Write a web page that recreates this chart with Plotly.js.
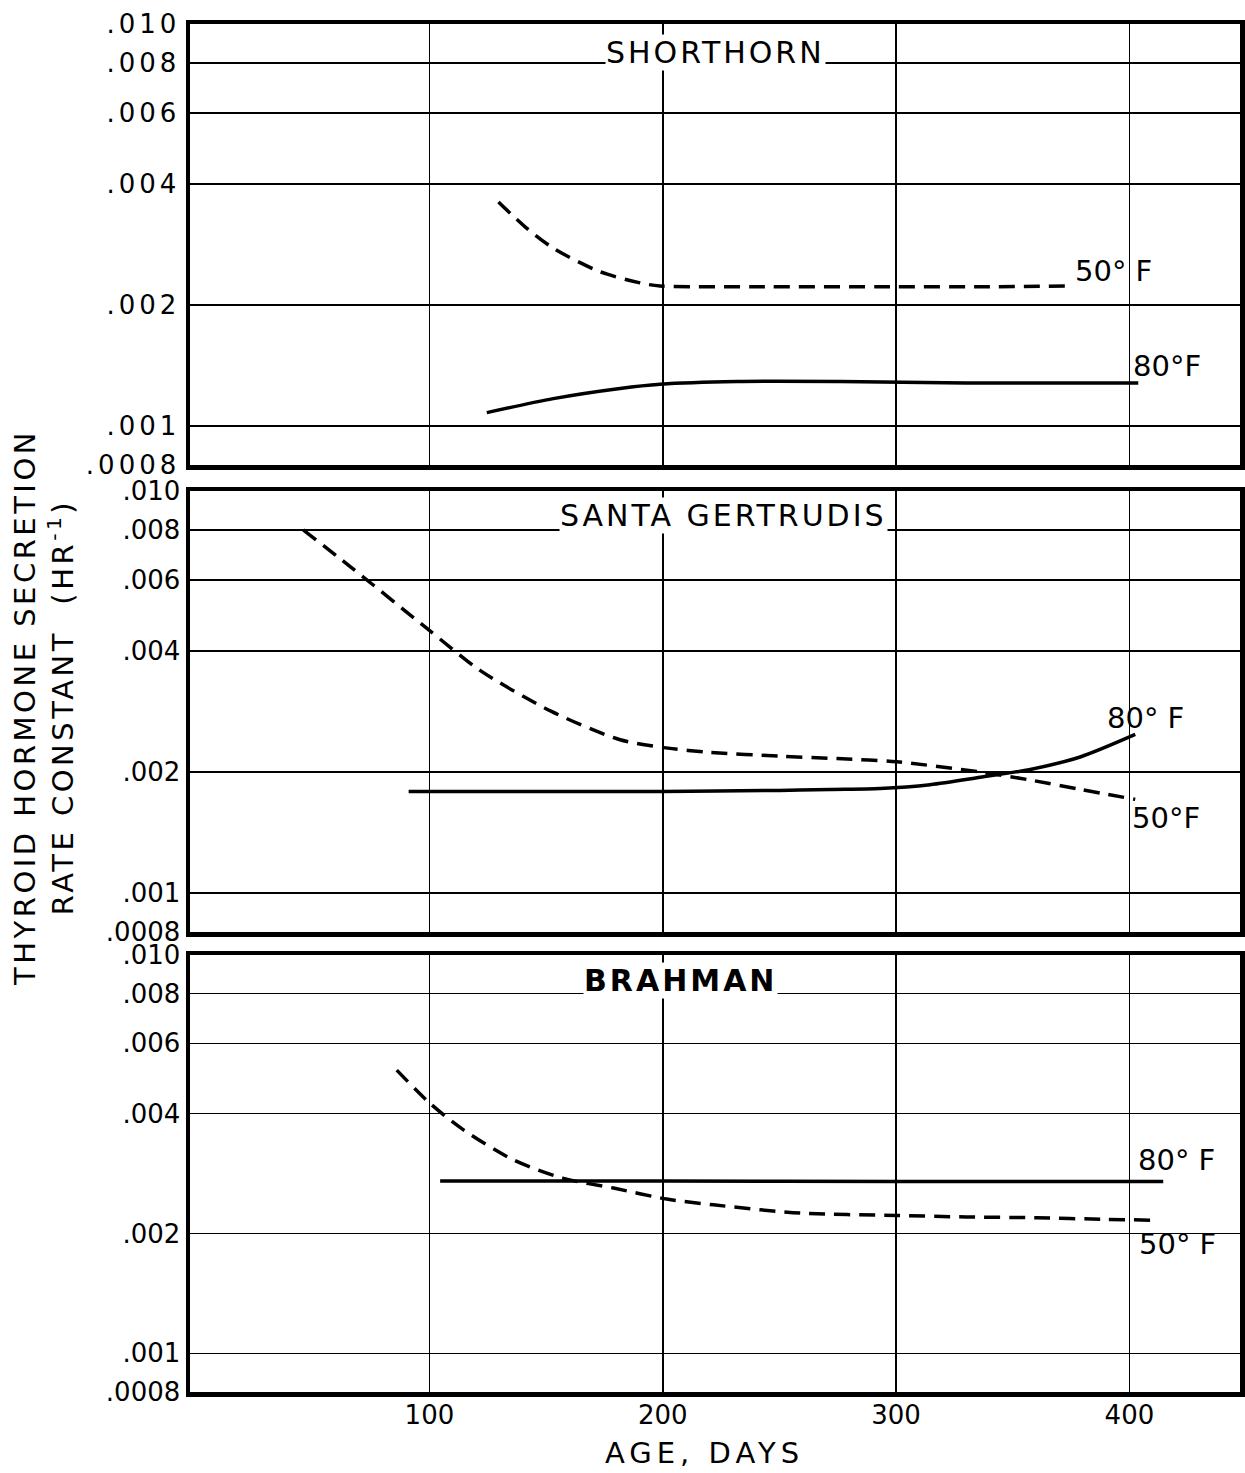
<!DOCTYPE html>
<html>
<head>
<meta charset="utf-8">
<script src="https://cdn.plot.ly/plotly-3.0.1.min.js"></script>
<style>
  html, body { margin: 0; padding: 0; background: #fff; }
  #chart { width: 1245px; height: 1473px; }
  .ytick text, .xtick text { letter-spacing: 4px; }
</style>
</head>
<body>
<div id="chart"></div>
<script>
// ---------- data ----------
const xTickVals = [100, 200, 300, 400];
const xTickText = ['100', '200', '300', '400'];
const yTickVals = [0.0008, 0.001, 0.002, 0.004, 0.006, 0.008, 0.010];
const yTickText = ['.0008', '.001', '.002', '.004', '.006', '.008', '.010'];

const panelNames = ['SHORTHORN', 'SANTA GERTRUDIS', 'BRAHMAN'];
const tempLabels = ['50° F', '80°F', '80° F', '50°F', '80° F', '50° F'];

// Shorthorn
const sh50Age = [129.6, 141, 153.1, 173.1, 190.3, 198.9, 238.8, 300, 340, 375.3];
const sh50Rate = [0.00361, 0.00313, 0.00277, 0.00242, 0.00227, 0.00223, 0.00222, 0.00222, 0.00222, 0.00223];
const sh80Age = [124.6, 153.1, 181.7, 198.9, 231.7, 276, 330, 370, 403.8];
const sh80Rate = [0.00108, 0.00117, 0.00124, 0.00127, 0.00129, 0.00129, 0.00128, 0.00128, 0.00128];

// Santa Gertrudis
const sg50Age = [45.9, 66.6, 98.8, 121.7, 152.3, 181.4, 200.5, 219.6, 250.3, 274.7, 300.3, 336, 357.5, 378.9, 402.5];
const sg50Rate = [0.0080, 0.00645, 0.00456, 0.00358, 0.00283, 0.00241, 0.00230, 0.00224, 0.00219, 0.00216, 0.00212, 0.00200, 0.00191, 0.00181, 0.00171];
const sg80Age = [91.1, 150, 200, 250, 271.8, 293.2, 314.6, 336, 357.5, 378.9, 402.5];
const sg80Rate = [0.00179, 0.00179, 0.00179, 0.00180, 0.00181, 0.00182, 0.00186, 0.00194, 0.00203, 0.00218, 0.00248];

// Brahman
const br50Age = [86.0, 100.3, 114.6, 136, 157.4, 178.9, 201.7, 221.7, 258.9, 300, 330, 360, 390, 409];
const br50Rate = [0.00514, 0.00424, 0.00364, 0.00306, 0.00275, 0.00260, 0.00244, 0.00236, 0.00225, 0.00222, 0.00220, 0.00219, 0.00217, 0.00216];
const br80Age = [104.6, 200, 300, 414.5];
const br80Rate = [0.00271, 0.00271, 0.00270, 0.00270];

// ---------- layout helpers ----------
const FONT = 'DejaVu Sans, Liberation Sans, sans-serif';
const L = 190, W = 1050, T = 24, H = 1368;
const px = v => (v - L) / W;          // page x -> paper x
const py = v => (T + H - v) / H;      // page y -> paper y

const dash = '16px,9px';
function line(x, y, xa, ya, dashed) {
  return {
    type: 'scatter', mode: 'lines', x: x, y: y, xaxis: xa, yaxis: ya,
    line: { color: '#000', width: 3.5, shape: 'spline', smoothing: 0.8, dash: dashed ? dash : 'solid' },
    hoverinfo: 'skip', showlegend: false
  };
}

const traces = [
  line(sh50Age, sh50Rate, 'x', 'y', true),
  line(sh80Age, sh80Rate, 'x', 'y', false),
  line(sg50Age, sg50Rate, 'x2', 'y2', true),
  line(sg80Age, sg80Rate, 'x2', 'y2', false),
  line(br50Age, br50Rate, 'x3', 'y3', true),
  line(br80Age, br80Rate, 'x3', 'y3', false)
];

function xAxis(anchor, labels) {
  return {
    anchor: anchor, domain: [0, 1], range: [-2.6, 447.4],
    tickvals: xTickVals, ticktext: xTickText, showticklabels: labels,
    ticks: '', ticklabelstandoff: -4, showgrid: true, gridcolor: '#000', gridwidth: 1.6,
    zeroline: false, showline: true, mirror: true, linecolor: '#000', linewidth: 4.5,
    tickfont: { family: FONT, size: 26, color: '#000' }, fixedrange: true
  };
}
function yAxis(anchor, domain) {
  return {
    anchor: anchor, domain: domain, type: 'log',
    range: [Math.log10(0.0008), Math.log10(0.010)],
    tickvals: yTickVals, ticktext: yTickText,
    ticks: '', showgrid: true, gridcolor: '#000', gridwidth: 1.6,
    zeroline: false, showline: true, mirror: true, linecolor: '#000', linewidth: 4.5,
    tickfont: { family: FONT, size: 26, color: '#000' }, fixedrange: true
  };
}

const sp = (t, s) => '<span style="letter-spacing:' + (s || 3) + 'px">' + t + '</span>';

function titleAnn(text, cx, cy, bold) {
  return {
    xref: 'paper', yref: 'paper', x: px(cx), y: py(cy), xanchor: 'center', yanchor: 'middle',
    text: sp(bold ? '<b>' + text + '</b>' : text), showarrow: false,
    bgcolor: '#fff', borderpad: 0,
    font: { family: FONT, size: 30, color: '#000' }
  };
}
function tempAnn(text, cx, cy) {
  return {
    xref: 'paper', yref: 'paper', x: px(cx), y: py(cy), xanchor: 'center', yanchor: 'middle',
    text: text, showarrow: false,
    font: { family: FONT, size: 29, color: '#000' }
  };
}

const annotations = [
  titleAnn(panelNames[0], 715, 52, false),
  titleAnn(panelNames[1], 723, 515, false),
  titleAnn(panelNames[2], 680, 980, true),
  tempAnn(tempLabels[0], 1113, 271),
  tempAnn(tempLabels[1], 1167, 366),
  tempAnn(tempLabels[2], 1145, 718),
  tempAnn(tempLabels[3], 1166, 818),
  tempAnn(tempLabels[4], 1176, 1160),
  tempAnn(tempLabels[5], 1177, 1244),
  {
    xref: 'paper', yref: 'paper', x: px(44), y: py(708), xanchor: 'center', yanchor: 'middle',
    textangle: -90, showarrow: false,
    text: sp('THYROID HORMONE SECRETION', 3.5) + '<br>' + sp('RATE CONSTANT  (HR<sup>-1</sup>)', 3.5),
    font: { family: FONT, size: 29, color: '#000' }
  },
  {
    xref: 'paper', yref: 'paper', x: px(704), y: py(1453), xanchor: 'center', yanchor: 'middle',
    showarrow: false, text: sp('AGE, DAYS', 5),
    font: { family: FONT, size: 29, color: '#000' }
  }
];

const layout = {
  width: 1245, height: 1473,
  margin: { l: L, r: 1245 - L - W, t: T, b: 1473 - T - H, pad: 0 },
  paper_bgcolor: '#fff', plot_bgcolor: '#fff',
  font: { family: FONT, color: '#000' },
  showlegend: false,
  xaxis: xAxis('y', false),
  yaxis: yAxis('x', [py(465), 1]),
  xaxis2: xAxis('y2', false),
  yaxis2: yAxis('x2', [py(932), py(491)]),
  xaxis3: xAxis('y3', true),
  yaxis3: yAxis('x3', [0, py(955)]),
  annotations: annotations
};

Plotly.newPlot('chart', traces, layout, { staticPlot: true, displayModeBar: false });
</script>
</body>
</html>
